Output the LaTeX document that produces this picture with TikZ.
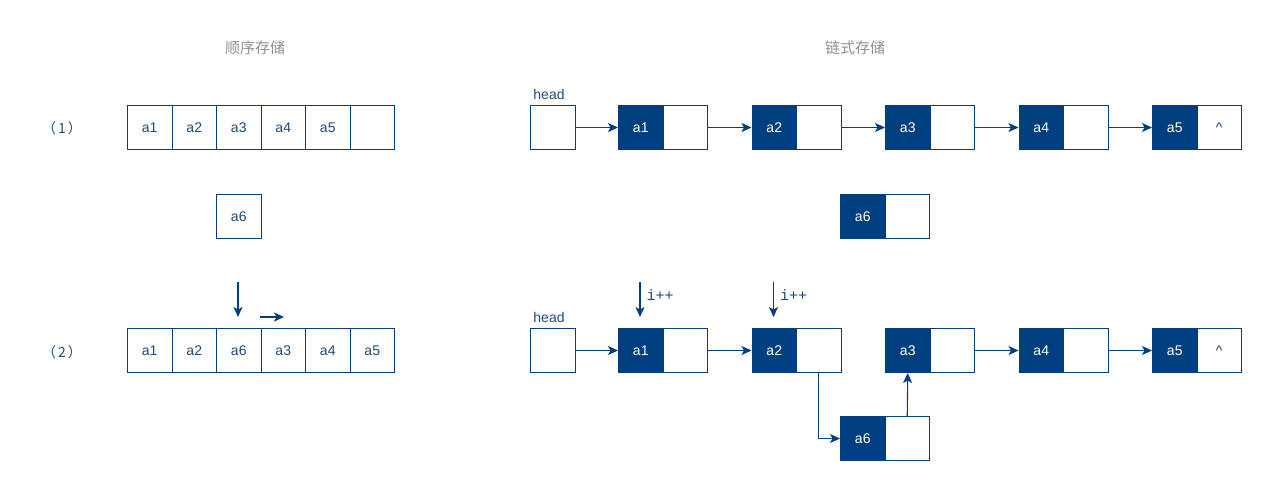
\documentclass[tikz,border=0pt]{standalone}
\usepackage{fontspec}
\setmainfont{Liberation Sans}
\setmonofont{Liberation Mono}
\newfontfamily\cjk{Noto Sans CJK SC}
\usetikzlibrary{arrows.meta}
\definecolor{dblue}{HTML}{003F7F}
\definecolor{lbl}{HTML}{8A929C}
\definecolor{txt}{HTML}{1F4B7A}
\begin{document}
\begin{tikzpicture}[x=1pt,y=-1pt,
  cell/.style={draw=dblue, line width=1pt, fill=white, minimum width=44.5pt, minimum height=44pt,
    inner sep=0pt, text=txt, font=\fontsize{14}{14}\selectfont, anchor=north west},
  dcell/.style={cell, fill=dblue, text=white},
  arr/.style={draw=dblue, line width=1.1pt, -{Stealth[length=10pt,width=9pt,inset=2.5pt]}},
  title/.style={text=lbl, font=\cjk\fontsize{15}{15}\selectfont},
  rowlbl/.style={text=txt, font=\cjk\fontsize{14}{14}\selectfont},
  headlbl/.style={text=txt, font=\fontsize{14}{14}\selectfont},
  ilbl/.style={text=txt, font=\ttfamily\fontsize{15}{15}\selectfont, anchor=west}]
\useasboundingbox (0,0) rectangle (1280,499);

% titles
\node[title] (t1) at (255,48) {顺序存储};
\node[title] (t2) at (855,48) {链式存储};
\node[rowlbl] (n1) at (62,128) {（\hspace{2pt}1\hspace{2pt}）};
\node[rowlbl] (n2) at (62,352) {（\hspace{2pt}2\hspace{2pt}）};

% sequential row 1
\node[cell] (p1) at (127,105) {a1};
\node[cell] (p2) at (171.5,105) {a2};
\node[cell] (p3) at (216,105) {a3};
\node[cell] (p4) at (260.5,105) {a4};
\node[cell] (p5) at (305,105) {a5};
\node[cell] (p6) at (349.5,105) {};
% a6
\node[cell] (q) at (216,194) {a6};
% sequential row 2
\node[cell] (r1) at (127,328) {a1};
\node[cell] (r2) at (171.5,328) {a2};
\node[cell] (r3) at (216,328) {a6};
\node[cell] (r4) at (260.5,328) {a3};
\node[cell] (r5) at (305,328) {a4};
\node[cell] (r6) at (349.5,328) {a5};
\coordinate (dnA) at (238,282);
\coordinate (dnB) at (238,317);
\coordinate (rtA) at (260,317);
\coordinate (rtB) at (284,317);
\draw[arr] (dnA) -- (dnB);
\draw[arr] (rtA) -- (rtB);

% linked row 1
\node[headlbl] (hl1) at (549,94) {head};
\node[cell] (h1) at (530,105) {};
\node[dcell] (l1d) at (618,105) {a1};
\node[cell] (l1w) at (662.5,105) {};
\node[dcell] (l2d) at (751.5,105) {a2};
\node[cell] (l2w) at (796,105) {};
\node[dcell] (l3d) at (885,105) {a3};
\node[cell] (l3w) at (929.5,105) {};
\node[dcell] (l4d) at (1018.5,105) {a4};
\node[cell] (l4w) at (1063,105) {};
\node[dcell] (l5d) at (1152,105) {a5};
\node[cell] (l5w) at (1196.5,105) {\textasciicircum};
\draw[arr] (h1.east) -- (l1d.west);
\draw[arr] (l1w.east) -- (l2d.west);
\draw[arr] (l2w.east) -- (l3d.west);
\draw[arr] (l3w.east) -- (l4d.west);
\draw[arr] (l4w.east) -- (l5d.west);

% middle a6
\node[dcell] (m6d) at (840,194) {a6};
\node[cell] (m6w) at (884.5,194) {};

% linked row 2
\node[headlbl] (hl2) at (549,317) {head};
\node[cell] (h2) at (530,328) {};
\node[dcell] (k1d) at (618,328) {a1};
\node[cell] (k1w) at (662.5,328) {};
\node[dcell] (k2d) at (751.5,328) {a2};
\node[cell] (k2w) at (796,328) {};
\node[dcell] (k3d) at (885,328) {a3};
\node[cell] (k3w) at (929.5,328) {};
\node[dcell] (k4d) at (1018.5,328) {a4};
\node[cell] (k4w) at (1063,328) {};
\node[dcell] (k5d) at (1152,328) {a5};
\node[cell] (k5w) at (1196.5,328) {\textasciicircum};
\node[dcell] (b6d) at (840,416) {a6};
\node[cell] (b6w) at (884.5,416) {};
\draw[arr] (h2.east) -- (k1d.west);
\draw[arr] (k1w.east) -- (k2d.west);
\draw[arr] (k3w.east) -- (k4d.west);
\draw[arr] (k4w.east) -- (k5d.west);
\draw[arr] (k2w.south) |- (b6d.west);
\draw[arr] (b6w.north) -- (k3d.south);

% i++ pointers
\coordinate (i1a) at (640,282);
\coordinate (i1b) at (640,317);
\coordinate (i2a) at (773.5,282);
\coordinate (i2b) at (773.5,317);
\draw[arr] (i1a) -- (i1b);
\draw[arr] (i2a) -- (i2b);
\node[ilbl] (il1) at (643,295) {i++};
\node[ilbl] (il2) at (776.5,295) {i++};
\end{tikzpicture}
\end{document}
